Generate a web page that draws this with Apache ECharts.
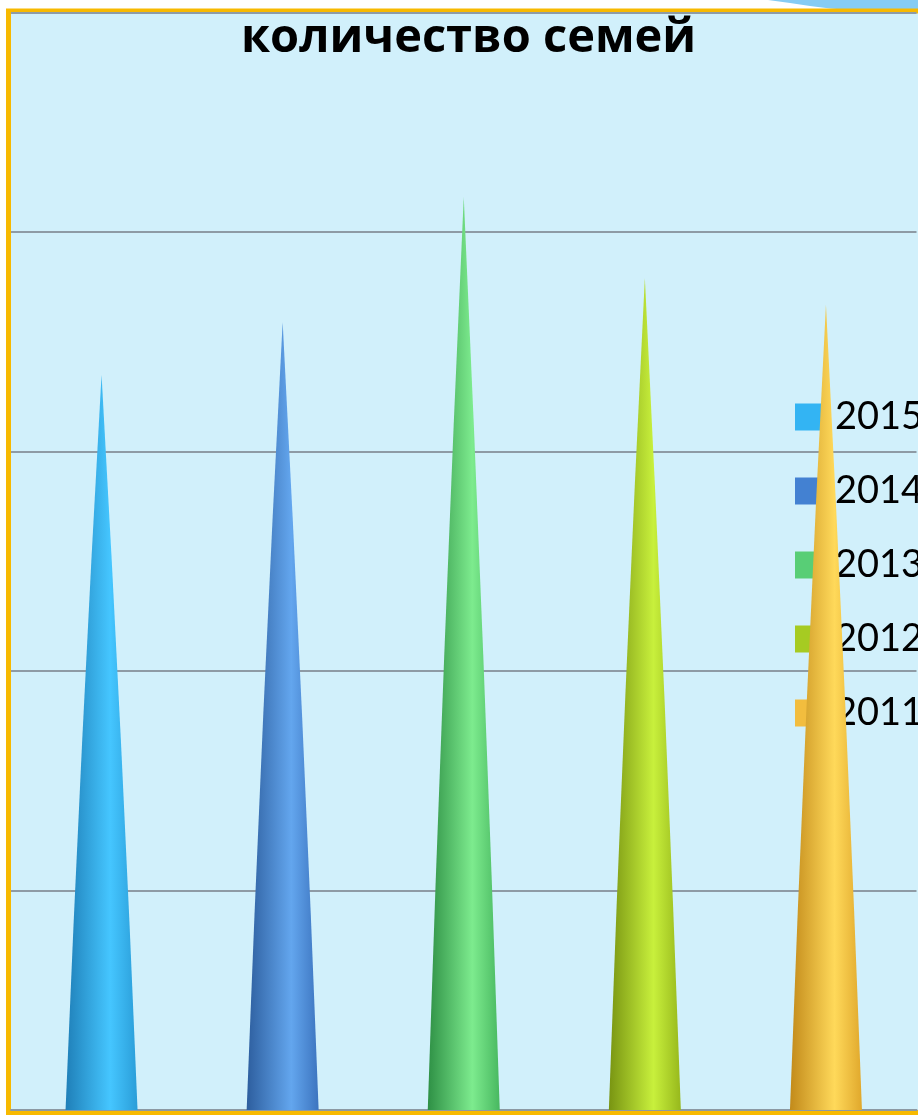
<!DOCTYPE html>
<html>
<head>
<meta charset="utf-8">
<script src="https://cdn.jsdelivr.net/npm/echarts@6/dist/echarts.min.js"></script>
<style>html,body{margin:0;padding:0;background:#fff;}#c{width:918px;height:1115px;}</style>
</head>
<body>
<div id="c"></div>
<script>
var titleText = 'количество семей';
var categories = ['2015', '2014', '2013', '2012', '2011'];
var values = [33.5, 35.9, 41.6, 37.9, 36.7];
var baseColors = ['#33B4F3', '#4381D2', '#58CE76', '#A6CB22', '#F2BD3E'];
var gradStops = [
  ['#1F7FB8', '#45C6FF', '#2A9DD8'],
  ['#2D5E9E', '#63A6EE', '#3C74BF'],
  ['#2E9045', '#7DEB8E', '#48B860'],
  ['#789412', '#C8F03C', '#97B81C'],
  ['#C28A1A', '#FFD95A', '#E0A82C']
];

var chart = echarts.init(document.getElementById('c'), null, {renderer: 'canvas'});

var coneSymbol = 'path://M50,0 Q21,500 0,1000 L100,1000 Q79,500 50,0 Z';

var series = categories.map(function (name, i) {
  var data = categories.map(function (c, j) { return j === i ? values[i] : '-'; });
  return {
    name: name,
    type: 'pictorialBar',
    symbol: coneSymbol,
    symbolSize: [72, '100%'],
    barGap: '-100%',
    barCategoryGap: '0%',
    z: 5,
    itemStyle: {
      color: {
        type: 'linear', x: 0, y: 0, x2: 1, y2: 0,
        colorStops: [
          {offset: 0, color: gradStops[i][0]},
          {offset: 0.62, color: gradStops[i][1]},
          {offset: 1, color: gradStops[i][2]}
        ]
      }
    },
    data: data
  };
});

chart.setOption({
  backgroundColor: '#ffffff',
  animation: false,
  title: {
    text: titleText,
    left: 236,
    top: 10,
    textStyle: {fontFamily: 'Open Sans', fontWeight: 'bold', fontSize: 47, color: '#000'}
  },
  graphic: [
    {
      type: 'polygon', z: -20, silent: true,
      shape: {points: [[768, 0], [790, 3], [810, 6], [830, 8.5], [850, 10], [918, 10], [918, 0]]},
      style: {fill: '#86CCF4'}
    },
    {
      type: 'rect', z: -10, silent: true,
      shape: {x: 8.5, y: 11, width: 915, height: 1101.5},
      style: {fill: '#D1F0FB', stroke: '#F7B900', lineWidth: 5}
    }
  ],
  legend: {
    orient: 'vertical',
    left: 790,
    top: 393,
    itemWidth: 27,
    itemHeight: 27,
    itemGap: 36,
    icon: 'rect',
    textStyle: {fontFamily: 'Lato', fontSize: 38, color: '#000', padding: [0, 0, 0, 8]},
    data: categories.map(function (c, i) { return {name: c, itemStyle: {color: baseColors[i]}}; })
  },
  grid: {left: 11, right: 1.5, top: 12.5, bottom: 5, containLabel: false},
  xAxis: {
    type: 'category',
    data: categories,
    axisLine: {show: true, lineStyle: {color: '#8C99A3', width: 2}},
    axisTick: {show: false},
    axisLabel: {show: false}
  },
  yAxis: {
    type: 'value',
    min: 0, max: 50, interval: 10,
    axisLine: {show: false},
    axisTick: {show: false},
    axisLabel: {show: false},
    splitLine: {show: true, lineStyle: {color: '#8E9BA5', width: 2}}
  },
  series: series
});
</script>
</body>
</html>
